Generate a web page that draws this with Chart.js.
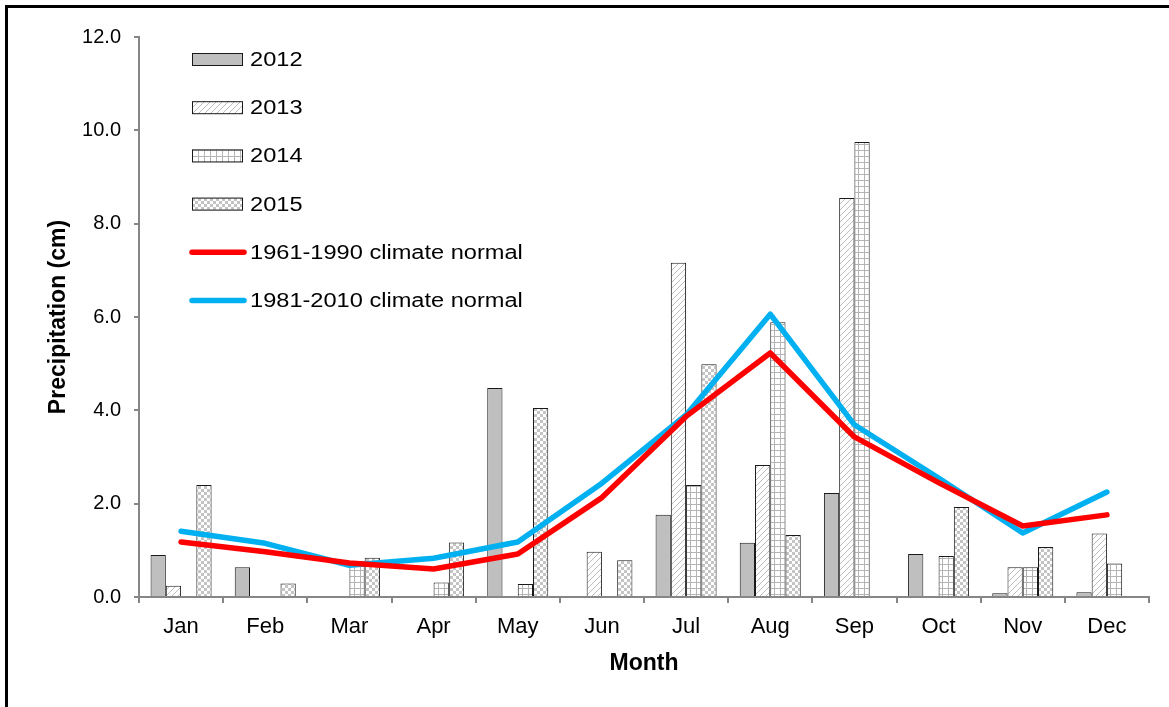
<!DOCTYPE html>
<html>
<head>
<meta charset="utf-8">
<script src="https://cdn.jsdelivr.net/npm/chart.js@4"></script>
<style>
  html, body { margin: 0; padding: 0; background: #fff; overflow: hidden; }
  #frame { position: absolute; left: 5px; top: 5px; width: 3000px; height: 3000px;
           border-left: 3px solid #000; border-top: 3px solid #000; pointer-events: none; }
  canvas { position: absolute; left: 0; top: 0; }
</style>
</head>
<body>
<div id="frame"></div>
<canvas id="chart" width="1169" height="707"></canvas>
<script>
// values (cm)
const months = ["Jan", "Feb", "Mar", "Apr", "May", "Jun", "Jul", "Aug", "Sep", "Oct", "Nov", "Dec"];
const p2012 = [0.90, 0.64, null, null, 4.48, null, 1.76, 1.16, 2.23, 0.92, 0.08, 0.10];
const p2013 = [0.24, 0.02, null, null, null, 0.97, 7.16, 2.83, 8.55, null, 0.64, 1.36];
const p2014 = [null, null, 0.70, 0.31, 0.28, null, 2.40, 5.89, 9.75, 0.88, 0.64, 0.72];
const p2015 = [2.40, 0.29, 0.84, 1.17, 4.05, 0.79, 4.99, 1.33, null, 1.93, 1.07, null];
const normal6190 = [1.18, 0.97, 0.73, 0.60, 0.92, 2.13, 3.87, 5.23, 3.43, 2.45, 1.52, 1.76];
const normal8110 = [1.41, 1.15, 0.68, 0.83, 1.18, 2.44, 3.90, 6.06, 3.69, 2.55, 1.37, 2.25];
const yTicks = [0, 2, 4, 6, 8, 10, 12];

const FONT = "'Liberation Sans', Arial, sans-serif";

function makePattern(size, draw) {
  const c = document.createElement("canvas");
  c.width = size; c.height = size;
  const g = c.getContext("2d");
  g.fillStyle = "#fff";
  g.fillRect(0, 0, size, size);
  draw(g);
  return document.getElementById("chart").getContext("2d").createPattern(c, "repeat");
}

// light diagonal hatch
const hatch = makePattern(6, g => {
  g.strokeStyle = "#bdbdbd";
  g.lineWidth = 1;
  g.beginPath();
  g.moveTo(-1, 7); g.lineTo(7, -1);
  g.moveTo(-1, 1); g.lineTo(1, -1);
  g.moveTo(5, 7); g.lineTo(7, 5);
  g.stroke();
});
// open square grid
const grid = makePattern(6, g => {
  g.fillStyle = "#b4b4b4";
  g.fillRect(0, 0, 6, 1);
  g.fillRect(0, 0, 1, 6);
});
// small checkerboard
const checker = makePattern(6, g => {
  g.fillStyle = "#c4c4c4";
  g.fillRect(0, 0, 3, 3);
  g.fillRect(3, 3, 3, 3);
});

function barSet(label, data, fill) {
  return {
    type: "bar", label, data,
    backgroundColor: fill,
    borderColor: "#1a1a1a",
    borderWidth: 1,
    borderSkipped: "bottom",
    categoryPercentage: 0.725,
    barPercentage: 1.0,
    order: 2
  };
}
function lineSet(label, data, color) {
  return {
    type: "line", label, data,
    borderColor: color,
    backgroundColor: color,
    borderWidth: 5.5,
    borderCapStyle: "round",
    borderJoinStyle: "round",
    pointRadius: 0,
    tension: 0,
    order: 1
  };
}

// legend drawn inside the plot, one row per dataset
const insideLegend = {
  id: "insideLegend",
  afterDraw(chart) {
    const ctx = chart.ctx;
    ctx.save();
    ctx.textBaseline = "middle";
    chart.data.datasets.forEach((ds, i) => {
      const y = 59.5 + i * 48.2;
      if (ds.type === "bar") {
        ctx.fillStyle = ds.backgroundColor;
        ctx.fillRect(192, y - 6.5, 51, 13);
        ctx.strokeStyle = "#1a1a1a";
        ctx.lineWidth = 1;
        ctx.strokeRect(192.5, y - 6, 50, 12);
      } else {
        ctx.strokeStyle = ds.borderColor;
        ctx.lineWidth = 5.5;
        ctx.lineCap = "round";
        ctx.beginPath();
        ctx.moveTo(192, y);
        ctx.lineTo(244, y);
        ctx.stroke();
      }
      // text in the reference is a little wider than plain Arial
      ctx.save();
      ctx.translate(250, y + 1);
      ctx.scale(1.18, 1);
      ctx.font = "20px " + FONT;
      ctx.fillStyle = "#000";
      ctx.fillText(ds.label, 0, 0);
      ctx.restore();
    });
    ctx.restore();
  }
};

new Chart(document.getElementById("chart"), {
  data: {
    labels: months,
    datasets: [
      barSet("2012", p2012, "#bfbfbf"),
      barSet("2013", p2013, hatch),
      barSet("2014", p2014, grid),
      barSet("2015", p2015, checker),
      lineSet("1961-1990 climate normal", normal6190, "#ff0000"),
      lineSet("1981-2010 climate normal", normal8110, "#00b0f0")
    ]
  },
  options: {
    responsive: false,
    animation: false,
    devicePixelRatio: 1,
    layout: { padding: { top: 37, right: 20, left: 0, bottom: 0 } },
    plugins: {
      legend: { display: false },
      tooltip: { enabled: false }
    },
    scales: {
      x: {
        offset: true,
        grid: { display: true, offset: true, drawOnChartArea: false, drawTicks: true, tickLength: 6, color: "#868686", lineWidth: 2 },
        border: { display: true, color: "#868686", width: 2 },
        ticks: { color: "#000", font: { family: FONT, size: 22 }, padding: 11, maxRotation: 0 },
        title: { display: true, text: "Month", color: "#000", font: { family: FONT, size: 23, weight: "bold" }, padding: { top: 0, bottom: 30 } },
        afterFit(scale) { scale.height = 110; }
      },
      y: {
        min: 0, max: 12,
        afterBuildTicks(scale) { scale.ticks = yTicks.map(v => ({ value: v })); },
        grid: { display: true, drawOnChartArea: false, drawTicks: true, tickLength: 5, color: "#868686", lineWidth: 2 },
        border: { display: true, color: "#868686", width: 2 },
        ticks: { color: "#000", font: { family: FONT, size: 20 }, padding: 13, callback: v => Number(v).toFixed(1) },
        title: { display: true, text: "Precipitation (cm)", color: "#000", font: { family: FONT, size: 23, weight: "bold" }, padding: { top: 45, bottom: 0 } },
        afterFit(scale) { scale.width = 139; }
      }
    }
  },
  plugins: [insideLegend]
});
</script>
</body>
</html>
